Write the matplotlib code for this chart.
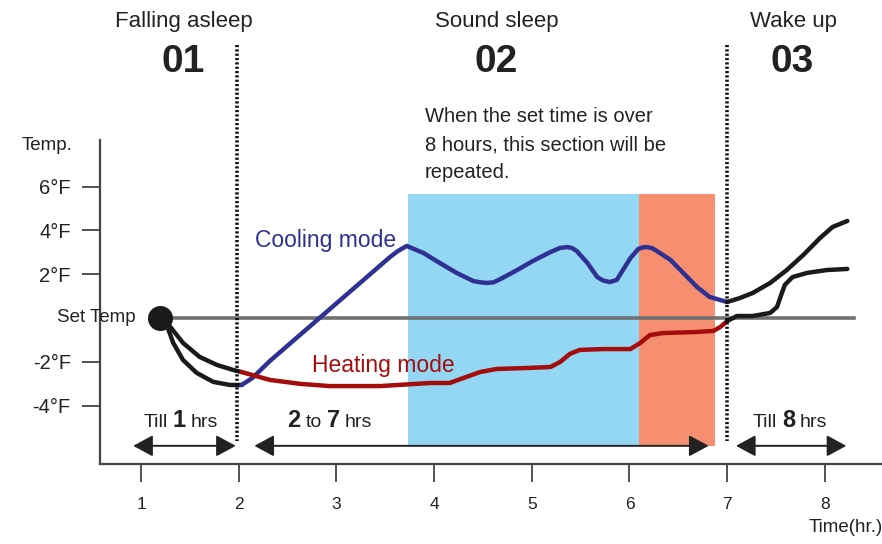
import matplotlib.pyplot as plt
from matplotlib.patches import Rectangle
from matplotlib.patches import ArrowStyle

plt.rcParams['font.family'] = ['Liberation Sans', 'DejaVu Sans']

# temperature offsets (deg F) against time (hr)
cool_t = [2.03, 2.14, 2.32, 3.55, 3.63, 3.72, 3.89, 4.06, 4.23, 4.40, 4.47, 4.54, 4.61, 4.68, 4.85,
          5.01, 5.19, 5.29, 5.36, 5.41, 5.46, 5.57, 5.67, 5.73, 5.80, 5.87, 6.01, 6.09, 6.13, 6.18,
          6.23, 6.28, 6.42, 6.55, 6.69, 6.82, 7.0]
cool_T = [-3.06, -2.74, -1.96, 2.79, 3.06, 3.29, 2.97, 2.51, 2.06, 1.69, 1.63, 1.60, 1.63, 1.78, 2.19,
          2.60, 3.01, 3.20, 3.24, 3.20, 3.06, 2.51, 1.87, 1.71, 1.64, 1.74, 2.74, 3.15, 3.22, 3.24,
          3.19, 3.06, 2.65, 2.06, 1.42, 0.96, 0.73]

heat_t = [2.03, 2.32, 2.63, 2.93, 3.45, 3.96, 4.16, 4.30, 4.47, 4.64, 4.98, 5.19, 5.29, 5.39,
          5.49, 5.73, 6.01, 6.11, 6.21, 6.34, 6.69, 6.86, 6.93, 7.0]
heat_T = [-2.47, -2.83, -3.01, -3.11, -3.11, -2.97, -2.97, -2.74, -2.47, -2.33, -2.28, -2.24, -2.01, -1.64,
          -1.46, -1.42, -1.42, -1.14, -0.78, -0.69, -0.64, -0.59, -0.41, -0.14]

# black parts: falling asleep and wake up
fall_lo_t = [1.19, 1.27, 1.33, 1.43, 1.57, 1.74, 1.91, 2.03]
fall_lo_T = [0.0, -0.41, -1.14, -1.92, -2.51, -2.92, -3.06, -3.06]
fall_hi_t = [1.19, 1.30, 1.43, 1.60, 1.78, 1.94, 2.03]
fall_hi_T = [0.0, -0.41, -1.14, -1.78, -2.15, -2.37, -2.47]
wake_hi_t = [7.0, 7.13, 7.26, 7.44, 7.61, 7.78, 7.95, 8.08, 8.23]
wake_hi_T = [0.73, 0.91, 1.14, 1.60, 2.19, 2.88, 3.65, 4.16, 4.43]
wake_lo_t = [7.0, 7.10, 7.26, 7.44, 7.51, 7.56, 7.59, 7.67, 7.82, 8.02, 8.23]
wake_lo_T = [-0.14, 0.09, 0.09, 0.23, 0.50, 1.14, 1.51, 1.87, 2.06, 2.19, 2.24]

ytick_vals = [6, 4, 2, -2, -4]
ytick_labels = ['6°F', '4°F', '2°F', '-2°F', '-4°F']
xtick_vals = [1, 2, 3, 4, 5, 6, 7, 8]

W, H = 882, 544
fig = plt.figure(figsize=(W / 100, H / 100), dpi=100)
ax = fig.add_axes([100 / W, (H - 464) / H, 782 / W, (464 - 140) / H])
ax.set_xlim(0.58, 8.585)
ax.set_ylim(-6.67, 8.13)

for s in ['top', 'right']:
    ax.spines[s].set_visible(False)
for s in ['left', 'bottom']:
    ax.spines[s].set_color('#444444')
    ax.spines[s].set_linewidth(1.6)

ax.set_yticks(ytick_vals)
ax.set_yticklabels(ytick_labels, fontsize=14.5, color='#222222')
ax.set_xticks(xtick_vals)
ax.set_xticklabels([str(v) for v in xtick_vals], fontsize=12.5, color='#222222')
ax.tick_params(axis='y', length=13, width=1.3, color='#444444', pad=8)
ax.tick_params(axis='x', length=13, width=1.3, color='#444444', pad=11)

# sound sleep section boxes
ax.add_patch(Rectangle((3.73, -5.84), 6.10 - 3.73, 5.66 + 5.84, facecolor='#93d7f5',
                       edgecolor='none', zorder=1))
ax.add_patch(Rectangle((6.10, -5.84), 6.875 - 6.10, 5.66 + 5.84, facecolor='#f58f70',
                       edgecolor='none', zorder=1))

# set temp line and start dot
ax.plot([1.19, 8.3], [0, 0], color='#707070', lw=2.6, zorder=2)
ax.plot([1.19], [0], 'o', color='#1a1a1a', ms=17, zorder=5)

curve_kw = dict(lw=3.2, solid_capstyle='round', solid_joinstyle='round', zorder=4)
ax.plot(fall_lo_t, fall_lo_T, color='#1a1a1a', **curve_kw)
ax.plot(fall_hi_t, fall_hi_T, color='#1a1a1a', **curve_kw)
ax.plot(cool_t, cool_T, color='#2e3192', **curve_kw)
ax.plot(heat_t, heat_T, color='#a50d0d', **curve_kw)
ax.plot(wake_hi_t, wake_hi_T, color='#1a1a1a', **curve_kw)
ax.plot(wake_lo_t, wake_lo_T, color='#1a1a1a', **curve_kw)

# dotted section dividers
for xv in [1.983, 7.0]:
    ax.plot([xv, xv], [12.45, -5.6], color='#111111', lw=2.6, linestyle=(0, (0.6, 0.6)),
            clip_on=False, zorder=6)

# duration arrows
head = ArrowStyle('<|-|>', head_length=1.2, head_width=0.65)
for x0, x1 in [(0.92, 1.97), (2.16, 6.81), (7.09, 8.22)]:
    ax.annotate('', xy=(x1, -5.84), xytext=(x0, -5.84),
                arrowprops=dict(arrowstyle=head, mutation_scale=10, color='#222222',
                                lw=1.4, shrinkA=0, shrinkB=0), zorder=6)

# duration labels, regular words with bold numbers on one baseline
renderer = fig.canvas.get_renderer()


def run_label(cx, base_y, parts):
    texts = []
    for s, bold in parts:
        texts.append(fig.text(0, 1 - base_y / H, s, fontsize=17 if bold else 14,
                              fontweight='bold' if bold else 'normal', ha='left',
                              va='baseline', color='#222222'))
    widths = [t.get_window_extent(renderer).width for t in texts]
    gap = 5
    x = cx - (sum(widths) + gap * (len(widths) - 1)) / 2
    for t, w in zip(texts, widths):
        t.set_x(x / W)
        x += w + gap


run_label(181, 427, [('Till', False), ('1', True), ('hrs', False)])
run_label(330, 427, [('2', True), ('to', False), ('7', True), ('hrs', False)])
run_label(790, 427, [('Till', False), ('8', True), ('hrs', False)])

ax.text(2.167, 3.56, 'Cooling mode', fontsize=16.5, color='#2e3192', ha='left', va='center', zorder=7)
ax.text(2.75, -2.15, 'Heating mode', fontsize=16.5, color='#a50d0d', ha='left', va='center', zorder=7)
ax.text(3.907, 9.62, 'When the set time is over\n8 hours, this section will be\nrepeated.',
        fontsize=14.5, color='#222222', ha='left', va='top', linespacing=1.6, clip_on=False)

# axis labels
fig.text(47 / W, 1 - 146 / H, 'Temp.', fontsize=13.5, ha='center', va='center', color='#222222')
fig.text(57 / W, 1 - 318 / H, 'Set Temp', fontsize=13.5, ha='left', va='center', color='#222222')
fig.text(846 / W, 1 - 527 / H, 'Time(hr.)', fontsize=13.5, ha='center', va='center', color='#222222')

# section headers
for cx, name, num in [(184, 'Falling asleep', '01'), (497, 'Sound sleep', '02'), (793, 'Wake up', '03')]:
    fig.text(cx / W, 1 - 21 / H, name, fontsize=16, ha='center', va='center', color='#222222')
    fig.text((cx - 1) / W, 1 - 62 / H, num, fontsize=28, fontweight='bold', ha='center',
             va='center', color='#222222')

fig.savefig('out.png', dpi=100, facecolor='white')
